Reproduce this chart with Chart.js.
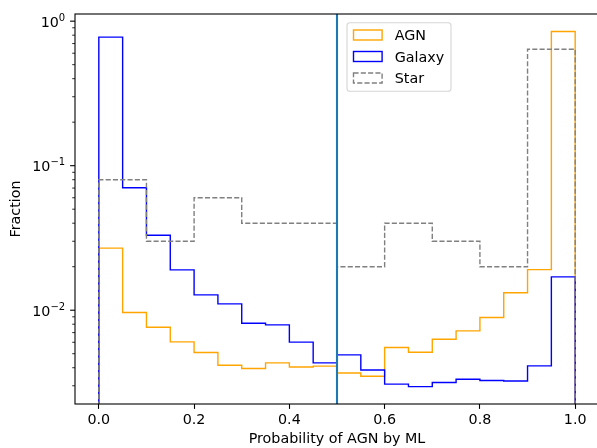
<!DOCTYPE html>
<html>
<head>
<meta charset="utf-8">
<script src="https://cdn.jsdelivr.net/npm/chart.js@4/dist/chart.umd.min.js"></script>
<style>
  html, body { margin: 0; padding: 0; background: #fff; overflow: hidden; }
  #wrap { width: 597px; height: 448px; overflow: hidden; position: relative; }
  canvas { position: absolute; left: 0; top: 0; }
</style>
</head>
<body>
<div id="wrap"><canvas id="c" width="600" height="448"></canvas></div>
<script>
// Fraction of sources per predicted-probability bin (histtype "step", log y)
const AGN_FRACTION = [
  0.0269, 0.00964, 0.00763, 0.00604, 0.00510, 0.00416, 0.00395, 0.00432, 0.00405, 0.00410,
  0.00368, 0.00349, 0.00552, 0.00512, 0.00630, 0.00719, 0.00890, 0.0132, 0.0191, 0.848
];
const GALAXY_FRACTION = [
  0.775, 0.0703, 0.0330, 0.0190, 0.01276, 0.01106, 0.00813, 0.00792, 0.00601, 0.00432,
  0.00491, 0.00386, 0.00308, 0.00296, 0.00316, 0.00333, 0.00326, 0.00324, 0.00412, 0.0170
];
const STAR_FRACTION = [0.08, 0.03, 0.06, 0.04, 0.04, 0.02, 0.04, 0.03, 0.02, 0.64];

const SERIES_NAMES = ['AGN', 'Galaxy', 'Star'];
const DECISION_THRESHOLD = 0.5;

const X_TICKS = [0.0, 0.2, 0.4, 0.6, 0.8, 1.0];
const Y_TICKS = [0.01, 0.1, 1];
const Y_TICK_LABELS = [['10', '\u22122'], ['10', '\u22121'], ['10', '0']];

const FONT = '"DejaVu Sans", sans-serif';
const FS = 14.3;

// Bin edges evenly spaced over [0, 1]
function binEdges(nBins) {
  return Array.from({ length: nBins + 1 }, (_, i) => i / nBins);
}

// Step outline: rise from below the axis at the first edge, run across
// each bin at its value, and drop back below the axis at the last edge.
function stepOutline(values) {
  const edges = binEdges(values.length);
  const below = 1e-6;
  const pts = [{ x: edges[0], y: below }];
  values.forEach((v, i) => {
    pts.push({ x: edges[i], y: v });
    pts.push({ x: edges[i + 1], y: v });
  });
  pts.push({ x: edges[edges.length - 1], y: below });
  return pts;
}

function stepDataset(label, values, color, dash, order) {
  return {
    label,
    data: stepOutline(values),
    borderColor: color,
    backgroundColor: 'rgba(0,0,0,0)',
    borderWidth: 1.4,
    borderDash: dash,
    borderJoinStyle: 'miter',
    borderCapStyle: 'butt',
    pointRadius: 0,
    pointHoverRadius: 0,
    tension: 0,
    fill: false,
    order
  };
}

// Threshold line, log-axis minor ticks and labels, frame and legend
const decorations = {
  id: 'decorations',
  afterDraw(chart) {
    const { ctx, chartArea: a, scales } = chart;
    const xs = scales.x, ys = scales.y;

    // y-axis tick marks (major + minor) and labels
    ctx.save();
    ctx.strokeStyle = '#000';
    const lo = Math.floor(Math.log10(ys.min)), hi = Math.ceil(Math.log10(ys.max));
    for (let k = lo; k <= hi; k++) {
      for (let m = 2; m <= 9; m++) {
        const v = m * Math.pow(10, k);
        if (v < ys.min || v > ys.max) continue;
        const py = ys.getPixelForValue(v);
        ctx.lineWidth = 0.83;
        ctx.beginPath(); ctx.moveTo(a.left - 2.8, py); ctx.lineTo(a.left, py); ctx.stroke();
      }
    }
    Y_TICKS.forEach((v, i) => {
      const py = ys.getPixelForValue(v);
      ctx.lineWidth = 1.1;
      ctx.beginPath(); ctx.moveTo(a.left - 4.9, py); ctx.lineTo(a.left, py); ctx.stroke();
      const [base, exp] = Y_TICK_LABELS[i];
      const right = a.left - 4.9 - 4.9;
      ctx.fillStyle = '#000';
      ctx.textAlign = 'right';
      ctx.textBaseline = 'alphabetic';
      ctx.font = `${FS * 0.7}px ${FONT}`;
      const ew = ctx.measureText(exp).width;
      ctx.fillText(exp, right, py - 0.5);
      ctx.font = `${FS}px ${FONT}`;
      ctx.fillText(base, right - ew, py + 5.6);
    });
    ctx.restore();

    // vertical decision threshold
    ctx.save();
    ctx.beginPath(); ctx.rect(a.left, a.top, a.right - a.left, a.bottom - a.top); ctx.clip();
    const tx = xs.getPixelForValue(DECISION_THRESHOLD);
    ctx.strokeStyle = '#1f77b4';
    ctx.lineWidth = 2.1;
    ctx.beginPath(); ctx.moveTo(tx, a.top); ctx.lineTo(tx, a.bottom); ctx.stroke();
    ctx.restore();

    // axes frame
    ctx.save();
    ctx.strokeStyle = '#000';
    ctx.lineWidth = 1.1;
    ctx.strokeRect(a.left, a.top, a.right - a.left, a.bottom - a.top);
    ctx.restore();

    // legend
    ctx.save();
    const fx = a.left + 272, fy = a.top + 8.7, fw = 104, fh = 68.6, r = 2.9;
    ctx.beginPath();
    ctx.roundRect(fx, fy, fw, fh, r);
    ctx.fillStyle = 'rgba(255,255,255,0.8)';
    ctx.fill();
    ctx.strokeStyle = 'rgba(204,204,204,0.8)';
    ctx.lineWidth = 1.1;
    ctx.stroke();
    chart.data.datasets.forEach((ds, i) => {
      const cy = fy + 12.3 + i * 21.5;
      ctx.strokeStyle = ds.borderColor;
      ctx.lineWidth = ds.borderWidth;
      ctx.setLineDash(ds.borderDash || []);
      ctx.strokeRect(fx + 6.5, cy - 5, 28.6, 10);
      ctx.setLineDash([]);
      ctx.fillStyle = '#000';
      ctx.font = `${FS}px ${FONT}`;
      ctx.textAlign = 'left';
      ctx.textBaseline = 'alphabetic';
      ctx.fillText(ds.label, fx + 47.7, cy + 5.2);
    });
    ctx.restore();
  }
};

new Chart(document.getElementById('c'), {
  type: 'line',
  data: {
    datasets: [
      stepDataset(SERIES_NAMES[0], AGN_FRACTION, '#ffa500', [], 3),
      stepDataset(SERIES_NAMES[1], GALAXY_FRACTION, '#0000ff', [], 2),
      stepDataset(SERIES_NAMES[2], STAR_FRACTION, '#808080', [5.1, 2.2], 1)
    ]
  },
  options: {
    responsive: false,
    animation: false,
    events: [],
    layout: { padding: { left: 0, top: 14, right: 1, bottom: 0 } },
    plugins: { legend: { display: false }, tooltip: { enabled: false } },
    scales: {
      x: {
        type: 'linear',
        min: -0.05,
        max: 1.05,
        afterBuildTicks(scale) { scale.ticks = X_TICKS.map(v => ({ value: v })); },
        afterFit(scale) { scale.height = 44; },
        ticks: {
          callback: v => Number(v).toFixed(1),
          font: { family: FONT, size: FS },
          color: '#000',
          padding: 3,
          maxRotation: 0,
          autoSkip: false
        },
        grid: {
          display: true,
          drawOnChartArea: false,
          drawTicks: true,
          tickLength: 4.9,
          tickWidth: 1.1,
          tickColor: '#000'
        },
        border: { display: false },
        title: {
          display: true,
          text: 'Probability of AGN by ML',
          font: { family: FONT, size: FS },
          color: '#000',
          padding: { top: 0, bottom: 0 }
        }
      },
      y: {
        type: 'logarithmic',
        min: 0.002244,
        max: 1.121,
        afterBuildTicks(scale) { scale.ticks = Y_TICKS.map(v => ({ value: v, major: true })); },
        afterFit(scale) { scale.width = 75; },
        ticks: { display: false },
        grid: { display: false },
        border: { display: false },
        title: {
          display: true,
          text: 'Fraction',
          font: { family: FONT, size: FS },
          color: '#000',
          padding: { top: 7.4, bottom: 0 }
        }
      }
    }
  },
  plugins: [decorations]
});
</script>
</body>
</html>
